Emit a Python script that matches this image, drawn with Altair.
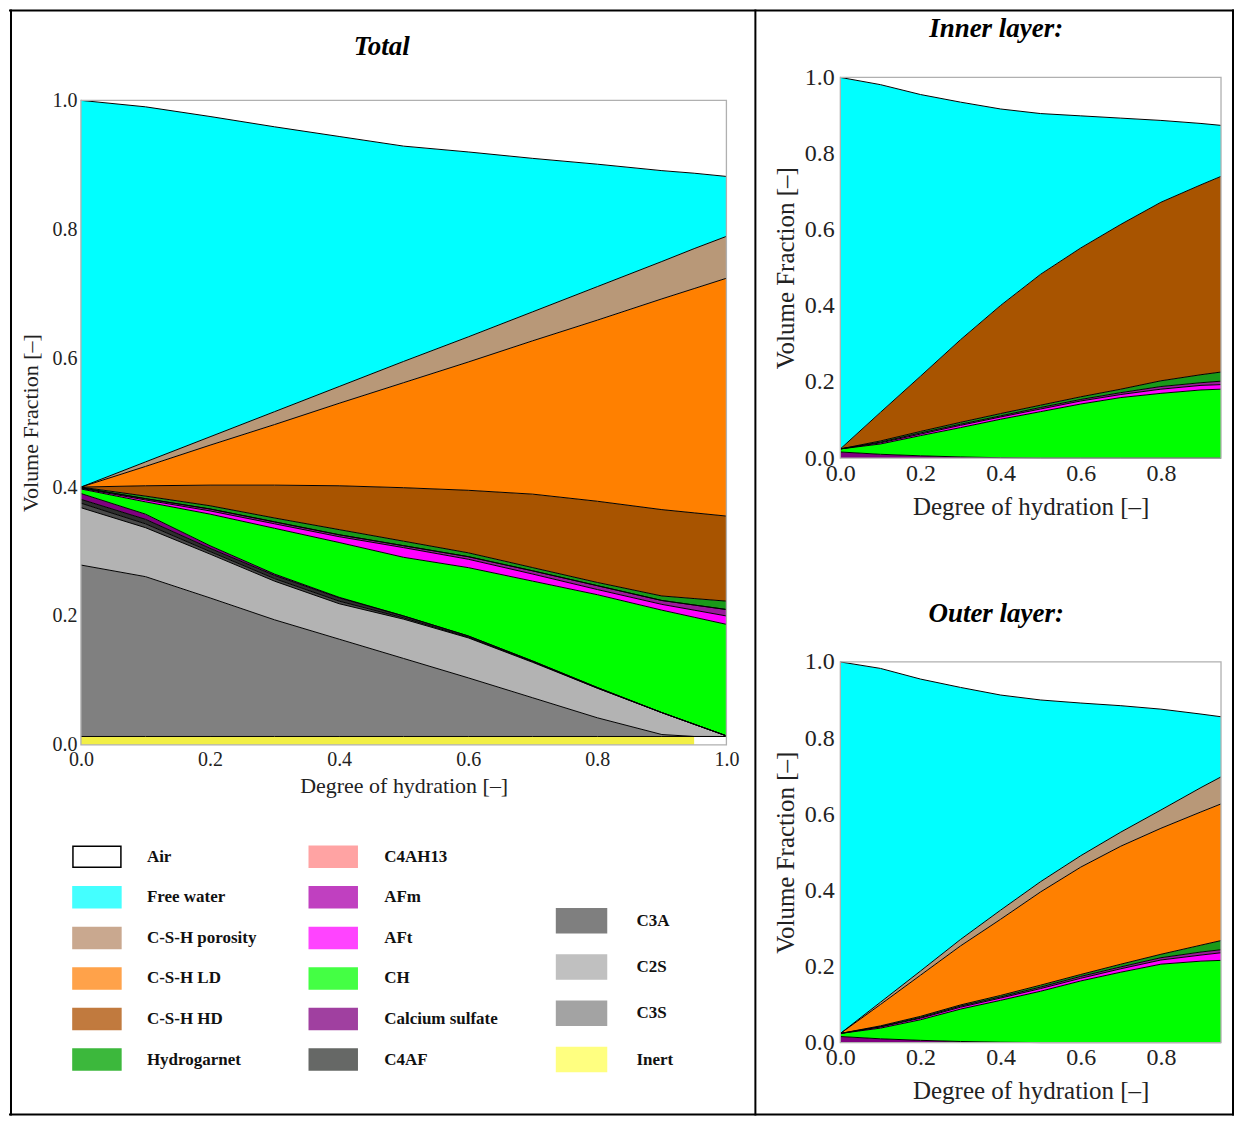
import altair as alt
import pandas as pd

FONT = "Liberation Serif"

# ---------------- phases & colours ----------------
PHASES = ["Inert", "C3S", "C2S", "C3A", "C4AF", "Calcium sulfate", "CH", "AFt",
          "AFm", "C4AH13", "Hydrogarnet", "C-S-H HD", "C-S-H LD",
          "C-S-H porosity", "Free water", "Air"]
CHART_COLORS = ["#f2ef45", "#808080", "#b3b3b3", "#4a4a4a", "#2e2e2e", "#800080",
                "#00ff00", "#ff00ff", "#9a1a9a", "#ff9a9a", "#199a19", "#a85400",
                "#ff8000", "#b89878", "#00ffff", "#ffffff"]

# ---------------- Total panel (cumulative upper boundaries) ----------------
X_TOTAL = [0.0, 0.1, 0.2, 0.3, 0.4, 0.5, 0.6, 0.7, 0.8, 0.9, 0.95, 1.0]
INERT_LEVEL = 0.013
INERT_END = 0.95
TOT_C3S = [0.279, 0.261, 0.228, 0.194, 0.164, 0.134, 0.104, 0.073, 0.042, 0.016, 0.013, 0.013]
TOT_C2S = [0.368, 0.337, 0.296, 0.254, 0.219, 0.195, 0.166, 0.128, 0.088, 0.050, 0.032, 0.014]
TOT_C3A = [0.375, 0.343, 0.300, 0.258, 0.223, 0.197, 0.167, 0.129, 0.088, 0.050, 0.032, 0.014]
TOT_C4AF = [0.381, 0.350, 0.305, 0.263, 0.228, 0.200, 0.169, 0.130, 0.089, 0.050, 0.032, 0.014]
TOT_CS = [0.390, 0.358, 0.309, 0.265, 0.229, 0.200, 0.169, 0.130, 0.089, 0.050, 0.032, 0.014]
TOT_CH = [0.397, 0.377, 0.358, 0.336, 0.314, 0.291, 0.275, 0.254, 0.233, 0.209, 0.198, 0.187]
TOT_AFT = [0.398, 0.380, 0.363, 0.343, 0.323, 0.306, 0.288, 0.265, 0.241, 0.218, 0.209, 0.200]
TOT_AFM = [0.399, 0.382, 0.366, 0.346, 0.326, 0.309, 0.292, 0.270, 0.247, 0.224, 0.217, 0.210]
TOT_C4AH13 = [0.399, 0.382, 0.366, 0.346, 0.326, 0.309, 0.292, 0.270, 0.247, 0.224, 0.217, 0.210]
TOT_HG = [0.400, 0.386, 0.371, 0.352, 0.334, 0.316, 0.298, 0.275, 0.252, 0.231, 0.227, 0.223]
TOT_HD = [0.400, 0.402, 0.403, 0.403, 0.402, 0.399, 0.395, 0.389, 0.378, 0.365, 0.360, 0.355]
TOT_LD = [0.400, 0.432, 0.465, 0.497, 0.530, 0.562, 0.594, 0.627, 0.659, 0.692, 0.708, 0.724]
TOT_POR = [0.400, 0.439, 0.478, 0.517, 0.556, 0.595, 0.633, 0.672, 0.711, 0.750, 0.770, 0.789]
TOT_WATER = [1.000, 0.990, 0.975, 0.959, 0.944, 0.929, 0.920, 0.910, 0.901, 0.891, 0.887, 0.882]
TOT_AIR = [1.0, 1.0, 1.0, 1.0, 1.0, 1.0, 1.0, 1.0, 1.0, 1.0, 1.0, 1.0]

# ---------------- Inner layer ----------------
X_LAYER = [0.0, 0.1, 0.2, 0.3, 0.4, 0.5, 0.6, 0.7, 0.8, 0.9, 0.95]
IN_CS = [0.016, 0.010, 0.006, 0.003, 0.001, 0.0, 0.0, 0.0, 0.0, 0.0, 0.0]
IN_CH = [0.024, 0.037, 0.059, 0.080, 0.102, 0.122, 0.142, 0.159, 0.170, 0.179, 0.181]
IN_AFT = [0.024, 0.040, 0.063, 0.086, 0.108, 0.129, 0.150, 0.167, 0.181, 0.191, 0.193]
IN_AFM = [0.024, 0.042, 0.066, 0.089, 0.111, 0.133, 0.154, 0.172, 0.188, 0.198, 0.202]
IN_HG = [0.024, 0.045, 0.070, 0.094, 0.117, 0.139, 0.161, 0.181, 0.203, 0.219, 0.226]
IN_HD = [0.024, 0.120, 0.215, 0.311, 0.401, 0.483, 0.552, 0.614, 0.672, 0.718, 0.740]
IN_WATER = [1.0, 0.981, 0.955, 0.935, 0.917, 0.905, 0.899, 0.893, 0.887, 0.879, 0.874]
IN_AIR = [1.0] * 11

# ---------------- Outer layer ----------------
OUT_CS = [0.016, 0.010, 0.006, 0.003, 0.001, 0.0, 0.0, 0.0, 0.0, 0.0, 0.0]
OUT_CH = [0.024, 0.038, 0.060, 0.088, 0.111, 0.135, 0.162, 0.185, 0.206, 0.214, 0.216]
OUT_AFT = [0.024, 0.041, 0.064, 0.093, 0.117, 0.142, 0.169, 0.194, 0.217, 0.230, 0.236]
OUT_AFM = [0.024, 0.042, 0.066, 0.096, 0.120, 0.146, 0.174, 0.199, 0.223, 0.238, 0.244]
OUT_HG = [0.024, 0.044, 0.069, 0.099, 0.124, 0.151, 0.179, 0.206, 0.232, 0.256, 0.268]
OUT_LD = [0.024, 0.100, 0.177, 0.254, 0.324, 0.396, 0.461, 0.516, 0.563, 0.606, 0.627]
OUT_POR = [0.024, 0.106, 0.188, 0.271, 0.348, 0.423, 0.491, 0.553, 0.611, 0.670, 0.698]
OUT_WATER = [1.0, 0.983, 0.955, 0.933, 0.913, 0.900, 0.892, 0.885, 0.876, 0.863, 0.856]
OUT_AIR = [1.0] * 11

# ---------------- legend ----------------
LEG_COL1 = ["Air", "Free water", "C-S-H porosity", "C-S-H LD", "C-S-H HD", "Hydrogarnet"]
LEG_COL2 = ["C4AH13", "AFm", "AFt", "CH", "Calcium sulfate", "C4AF"]
LEG_COL3 = ["C3A", "C2S", "C3S", "Inert"]
LEGEND_COLORS = {
    "Air": "#ffffff", "Free water": "#44ffff", "C-S-H porosity": "#c9a88f",
    "C-S-H LD": "#ffa24a", "C-S-H HD": "#c17a3e", "Hydrogarnet": "#3cb83c",
    "C4AH13": "#ffa3a3", "AFm": "#c040c0", "AFt": "#ff44ff", "CH": "#44ff44",
    "Calcium sulfate": "#a040a0", "C4AF": "#666866", "C3A": "#7f7f7f",
    "C2S": "#c0c0c0", "C3S": "#a3a3a3", "Inert": "#ffff80",
}

ONE = pd.DataFrame({"k": [0]})
COLOR_SCALE = alt.Scale(domain=PHASES, range=CHART_COLORS)


def build_tables(xs, names, tops, base):
    rows, lines = [], []
    lower = base
    for name, top in zip(names, tops):
        for x, lo, hi in zip(xs, lower, top):
            rows.append({"phase": name, "x": x, "lo": lo, "hi": hi})
            if name != "Air":
                lines.append({"phase": name, "x": x, "hi": hi})
        lower = top
    return rows, lines


def vrule(x, y1, y2):
    return alt.Chart(ONE).mark_rule(color="black", strokeWidth=2, strokeCap="square").encode(
        x=alt.value(x), y=alt.value(y1), y2=alt.value(y2))


def hrule(y, x1, x2):
    return alt.Chart(ONE).mark_rule(color="black", strokeWidth=2, strokeCap="square").encode(
        y=alt.value(y), x=alt.value(x1), x2=alt.value(x2))


def label(text, x, y):
    return alt.Chart(ONE).mark_text(text=text, font=FONT, fontSize=27, fontWeight="bold",
                                    fontStyle="italic", align="center", baseline="middle",
                                    color="black").encode(x=alt.value(x), y=alt.value(y))


def panel(rows, lines, xmax, xticks, yrange, lab, tit, xlp, xtp, ylp, ytp):
    xa = alt.Axis(values=xticks, format=".1f", title="Degree of hydration [–]",
                  labelFont=FONT, titleFont=FONT, labelFontSize=lab, titleFontSize=tit,
                  labelPadding=xlp, titlePadding=xtp, ticks=False, domain=False, grid=False,
                  labelFlush=False, labelOverlap=False, labelColor="#222", titleColor="#222",
                  titleFontWeight="normal")
    ya = alt.Axis(values=[0, 0.2, 0.4, 0.6, 0.8, 1.0], format=".1f",
                  title="Volume Fraction [–]", labelFont=FONT, titleFont=FONT,
                  labelFontSize=lab, titleFontSize=tit, labelPadding=ylp, titlePadding=ytp,
                  ticks=False, domain=False, grid=False, labelFlush=False, labelOverlap=False,
                  labelColor="#222", titleColor="#222", titleFontWeight="normal")
    xs = alt.Scale(domain=[0, xmax], nice=False, zero=False)
    ys = alt.Scale(domain=[0, 1], nice=False, range=yrange)
    areas = alt.Chart(pd.DataFrame(rows)).mark_area(interpolate="linear").encode(
        x=alt.X("x:Q", scale=xs, axis=xa),
        y=alt.Y("lo:Q", scale=ys, axis=ya),
        y2="hi:Q",
        color=alt.Color("phase:N", scale=COLOR_SCALE, legend=None),
    )
    edges = alt.Chart(pd.DataFrame(lines)).mark_line(color="black", strokeWidth=1).encode(
        x=alt.X("x:Q", scale=xs, axis=xa),
        y=alt.Y("hi:Q", scale=ys, axis=ya),
        detail="phase:N",
    )
    frame_df = pd.DataFrame({"x0": [0.0], "x1": [xmax], "y0": [0.0], "y1": [1.0]})
    frame = alt.Chart(frame_df).mark_rect(fillOpacity=0, stroke="#b0b0b0", strokeWidth=1.3).encode(
        x=alt.X("x0:Q", scale=xs, axis=xa), x2="x1:Q",
        y=alt.Y("y0:Q", scale=ys, axis=ya), y2="y1:Q",
    )
    return [areas, edges, frame]


# ---- Total (view origin = page (80, 76); plot spans y 23..668) ----
tot_names = ["C3S", "C2S", "C3A", "C4AF", "Calcium sulfate", "CH", "AFt", "AFm", "C4AH13",
             "Hydrogarnet", "C-S-H HD", "C-S-H LD", "C-S-H porosity", "Free water", "Air"]
tot_tops = [TOT_C3S, TOT_C2S, TOT_C3A, TOT_C4AF, TOT_CS, TOT_CH, TOT_AFT, TOT_AFM, TOT_C4AH13,
            TOT_HG, TOT_HD, TOT_LD, TOT_POR, TOT_WATER, TOT_AIR]
base = [INERT_LEVEL] * len(X_TOTAL)
t_rows, t_lines = build_tables(X_TOTAL, tot_names, tot_tops, base)
t_rows += [{"phase": "Inert", "x": 0.0, "lo": 0.0, "hi": INERT_LEVEL},
           {"phase": "Inert", "x": INERT_END, "lo": 0.0, "hi": INERT_LEVEL}]
t_lines += [{"phase": "base", "x": x, "hi": b} for x, b in zip(X_TOTAL, base)]

total = alt.layer(
    *panel(t_rows, t_lines, 1.0, [0, 0.2, 0.4, 0.6, 0.8, 1.0], [668, 23], 20, 22, 5, 6, 4, 9),
    label("Total", 301, -30),
    # figure frame
    hrule(-67, -71, 1153),
    hrule(1038, -71, 1153),
    vrule(-70, -67, 1038),
    vrule(1153, -67, 1038),
    vrule(675, -67, 1038),
).properties(width=646, height=668, view=alt.ViewBackground(strokeOpacity=0))

# ---- Inner (origin page (840, 76)) ----
in_names = ["Calcium sulfate", "CH", "AFt", "AFm", "Hydrogarnet", "C-S-H HD", "Free water", "Air"]
in_tops = [IN_CS, IN_CH, IN_AFT, IN_AFM, IN_HG, IN_HD, IN_WATER, IN_AIR]
i_rows, i_lines = build_tables(X_LAYER, in_names, in_tops, [0.0] * len(X_LAYER))
inner = alt.layer(
    *panel(i_rows, i_lines, 0.95, [0, 0.2, 0.4, 0.6, 0.8], [381, 0], 24, 25, 3, 9, 6, 6),
    label("Inner layer:", 156, -48),
).properties(width=381, height=381, view=alt.ViewBackground(strokeOpacity=0))

# ---- Outer (origin page (840, 744); plot spans y -83..298) ----
out_names = ["Calcium sulfate", "CH", "AFt", "AFm", "Hydrogarnet", "C-S-H LD", "C-S-H porosity",
             "Free water", "Air"]
out_tops = [OUT_CS, OUT_CH, OUT_AFT, OUT_AFM, OUT_HG, OUT_LD, OUT_POR, OUT_WATER, OUT_AIR]
o_rows, o_lines = build_tables(X_LAYER, out_names, out_tops, [0.0] * len(X_LAYER))
outer = alt.layer(
    *panel(o_rows, o_lines, 0.95, [0, 0.2, 0.4, 0.6, 0.8], [298, -83], 24, 25, 3, 9, 6, 6),
    label("Outer layer:", 156, -131),
).properties(width=381, height=298, view=alt.ViewBackground(strokeOpacity=0))

# ---- Legend (origin page (80, 744)) ----
def legend_rows(names, col, rowpos):
    return [{"name": n, "col": col, "row": r, "fill": LEGEND_COLORS[n],
             "edge": "#000000" if n == "Air" else LEGEND_COLORS[n]}
            for n, r in zip(names, rowpos)]


leg1 = legend_rows(LEG_COL1, 0, range(6))
leg2 = legend_rows(LEG_COL2, 1, range(6))
leg3 = legend_rows(LEG_COL3, 2, [1.58 + 1.14 * i for i in range(4)])
lx = alt.X("col:Q", scale=alt.Scale(domain=[0, 2], range=[16, 501], nice=False, zero=False),
           axis=None)
ly = alt.Y("row:Q", scale=alt.Scale(domain=[0, 5], range=[112, 315], nice=False, zero=False),
           axis=None)


def legend_layers(data, w, h, dx, shift):
    df = pd.DataFrame(data)
    sw = alt.Chart(df).mark_rect(width=w, height=h, strokeWidth=1.5, xOffset=shift).encode(
        x=lx, y=ly, fill=alt.Fill("fill:N", scale=None), stroke=alt.Stroke("edge:N", scale=None))
    tx = alt.Chart(df).mark_text(align="left", baseline="middle", dx=dx, xOffset=shift,
                                 font=FONT, fontSize=17, fontWeight="bold", color="#111").encode(
        x=lx, y=ly, text="name:N")
    return [sw, tx]


legend = alt.layer(
    *legend_layers(leg1, 48, 21, 50, 0),
    *legend_layers(leg2, 48, 21, 51, -6),
    *legend_layers(leg3, 50, 24, 55, 0),
).properties(width=640, height=340, view=alt.ViewBackground(strokeOpacity=0))

chart = alt.concat(
    total, inner, legend, outer,
    columns=2, bounds="flush", spacing={"row": 0, "column": 114},
).properties(padding=0).configure(font=FONT)

chart.save("out.html", embed_options={"renderer": "svg", "actions": False})
